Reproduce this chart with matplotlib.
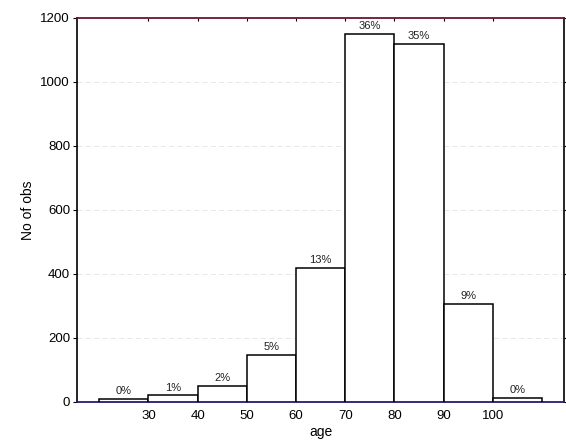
import matplotlib.pyplot as plt
import numpy as np

plt.rcParams['font.family'] = ['Liberation Sans', 'DejaVu Sans']

# age histogram counts, 10-year bins from 20 to 110
bin_edges = [20, 30, 40, 50, 60, 70, 80, 90, 100, 110]
counts = [10, 20, 50, 147, 419, 1150, 1120, 306, 12]
xticks = [30, 40, 50, 60, 70, 80, 90, 100]
yticks = [0, 200, 400, 600, 800, 1000, 1200]

fig = plt.figure(figsize=(5.66, 4.48), dpi=100)
ax = fig.add_axes([0.136, 0.103, 0.861, 0.857])

lefts = np.array(bin_edges[:-1])
widths = np.diff(bin_edges)
ax.bar(lefts, counts, width=widths, align='edge', facecolor='white',
       edgecolor='black', linewidth=1.1, zorder=3)

total = sum(counts)
for x, w, c in zip(lefts, widths, counts):
    pct = round(100 * c / total)
    ax.text(x + w / 2, c + 8, f'{pct}%', ha='center', va='bottom',
            fontsize=8, color='#222222', zorder=4)

ax.set_xlim(15.5, 114.5)
ax.set_ylim(0, 1200)
ax.set_xticks(xticks)
ax.set_yticks(yticks)
ax.tick_params(axis='both', labelsize=9.5, length=3, width=0.8)
ax.tick_params(axis='x', direction='in', top=True, length=2, pad=6)
ax.tick_params(axis='y', direction='out', right=True, length=3, pad=2)
for y in yticks[1:-1]:
    ax.axhline(y, color='#e2e2e2', linewidth=0.6, linestyle=(0, (6, 4)), zorder=1)

ax.set_xlabel('age', fontsize=10, labelpad=2)
ax.set_ylabel('No of obs', fontsize=10, labelpad=4)

for side in ['left', 'right']:
    ax.spines[side].set_linewidth(1.2)
ax.spines['top'].set_color('#6a1535')
ax.spines['top'].set_linewidth(1.3)
ax.spines['bottom'].set_color('#2a1a70')
ax.spines['bottom'].set_linewidth(1.3)

fig.savefig('out.png', dpi=100)
